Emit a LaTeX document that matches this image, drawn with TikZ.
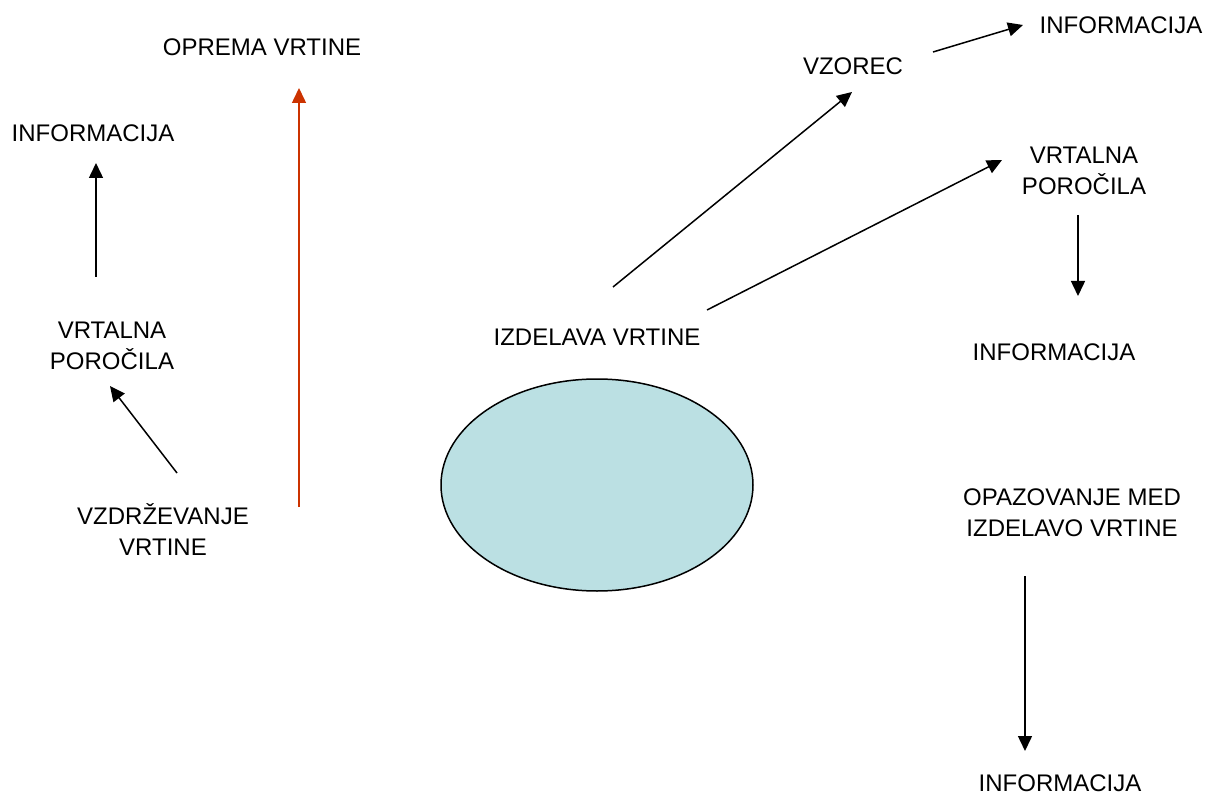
\documentclass[tikz,border=0pt]{standalone}
\usepackage{fontspec}
\setmainfont{Liberation Sans}
\usetikzlibrary{arrows.meta, shapes.geometric}
\definecolor{vrtred}{RGB}{204,51,0}
\definecolor{vrtfill}{RGB}{187,224,227}
\tikzset{
	x=1pt, y=-1pt, % one unit is one pixel of the sheet
	lbl/.style={align=center, font=\fontsize{24}{31}\selectfont, inner sep=0pt}, % every text label
	arr/.style={-{Triangle[length=15pt,width=14pt]}, line width=1.5pt}, % black arrows
	redarr/.style={arr, draw=vrtred, -{Triangle[length=15pt,width=14pt,fill=vrtred]}}, % the red arrow
}
\begin{document}
\begin{tikzpicture}
		\useasboundingbox (0,0) rectangle (1205,794);

		\node[lbl] (oprema) at (262,47) {OPREMA VRTINE};
		\node[lbl] (infoL) at (93,133) {INFORMACIJA};
		\node[lbl] (porL) at (112,346) {VRTALNA\\POROČILA};
		\node[lbl] (vzd) at (163,530) {VZDRŽEVANJE\\VRTINE};
		\node[lbl] (izd) at (597,337) {IZDELAVA VRTINE};
		\node[lbl] (vzorec) at (853,66) {VZOREC};
		\node[lbl] (infoT) at (1121,25) {INFORMACIJA};
		\node[lbl] (porR) at (1084,171) {VRTALNA\\POROČILA};
		\node[lbl] (infoM) at (1054,352) {INFORMACIJA};
		\node[lbl] (opaz) at (1072,513) {OPAZOVANJE MED\\IZDELAVO VRTINE};
		\node[lbl] (infoB) at (1060,783) {INFORMACIJA};

		\node[ellipse, draw, line width=1.5pt, fill=vrtfill, minimum width=312pt, minimum height=212pt] (vrtina) at (597,485) {};

		% free ends of the arrows
		\coordinate (a1) at (96,277);   \coordinate (b1) at (96,163);
		\coordinate (a2) at (177,473);  \coordinate (b2) at (110,386);
		\coordinate (a3) at (299,507);  \coordinate (b3) at (299,88);
		\coordinate (a4) at (613,287);  \coordinate (b4) at (852,92);
		\coordinate (a5) at (707,310);  \coordinate (b5) at (1002,160);
		\coordinate (a6) at (933,52);   \coordinate (b6) at (1023,25);
		\coordinate (a7) at (1078,215); \coordinate (b7) at (1078,296);
		\coordinate (a8) at (1025,576); \coordinate (b8) at (1025,751);

		\draw[arr] (a1) -- (b1);
		\draw[arr] (a2) -- (b2);
		\draw[redarr] (a3) -- (b3);
		\draw[arr] (a4) -- (b4);
		\draw[arr] (a5) -- (b5);
		\draw[arr] (a6) -- (b6);
		\draw[arr] (a7) -- (b7);
		\draw[arr] (a8) -- (b8);
	\end{tikzpicture}
\end{document}
